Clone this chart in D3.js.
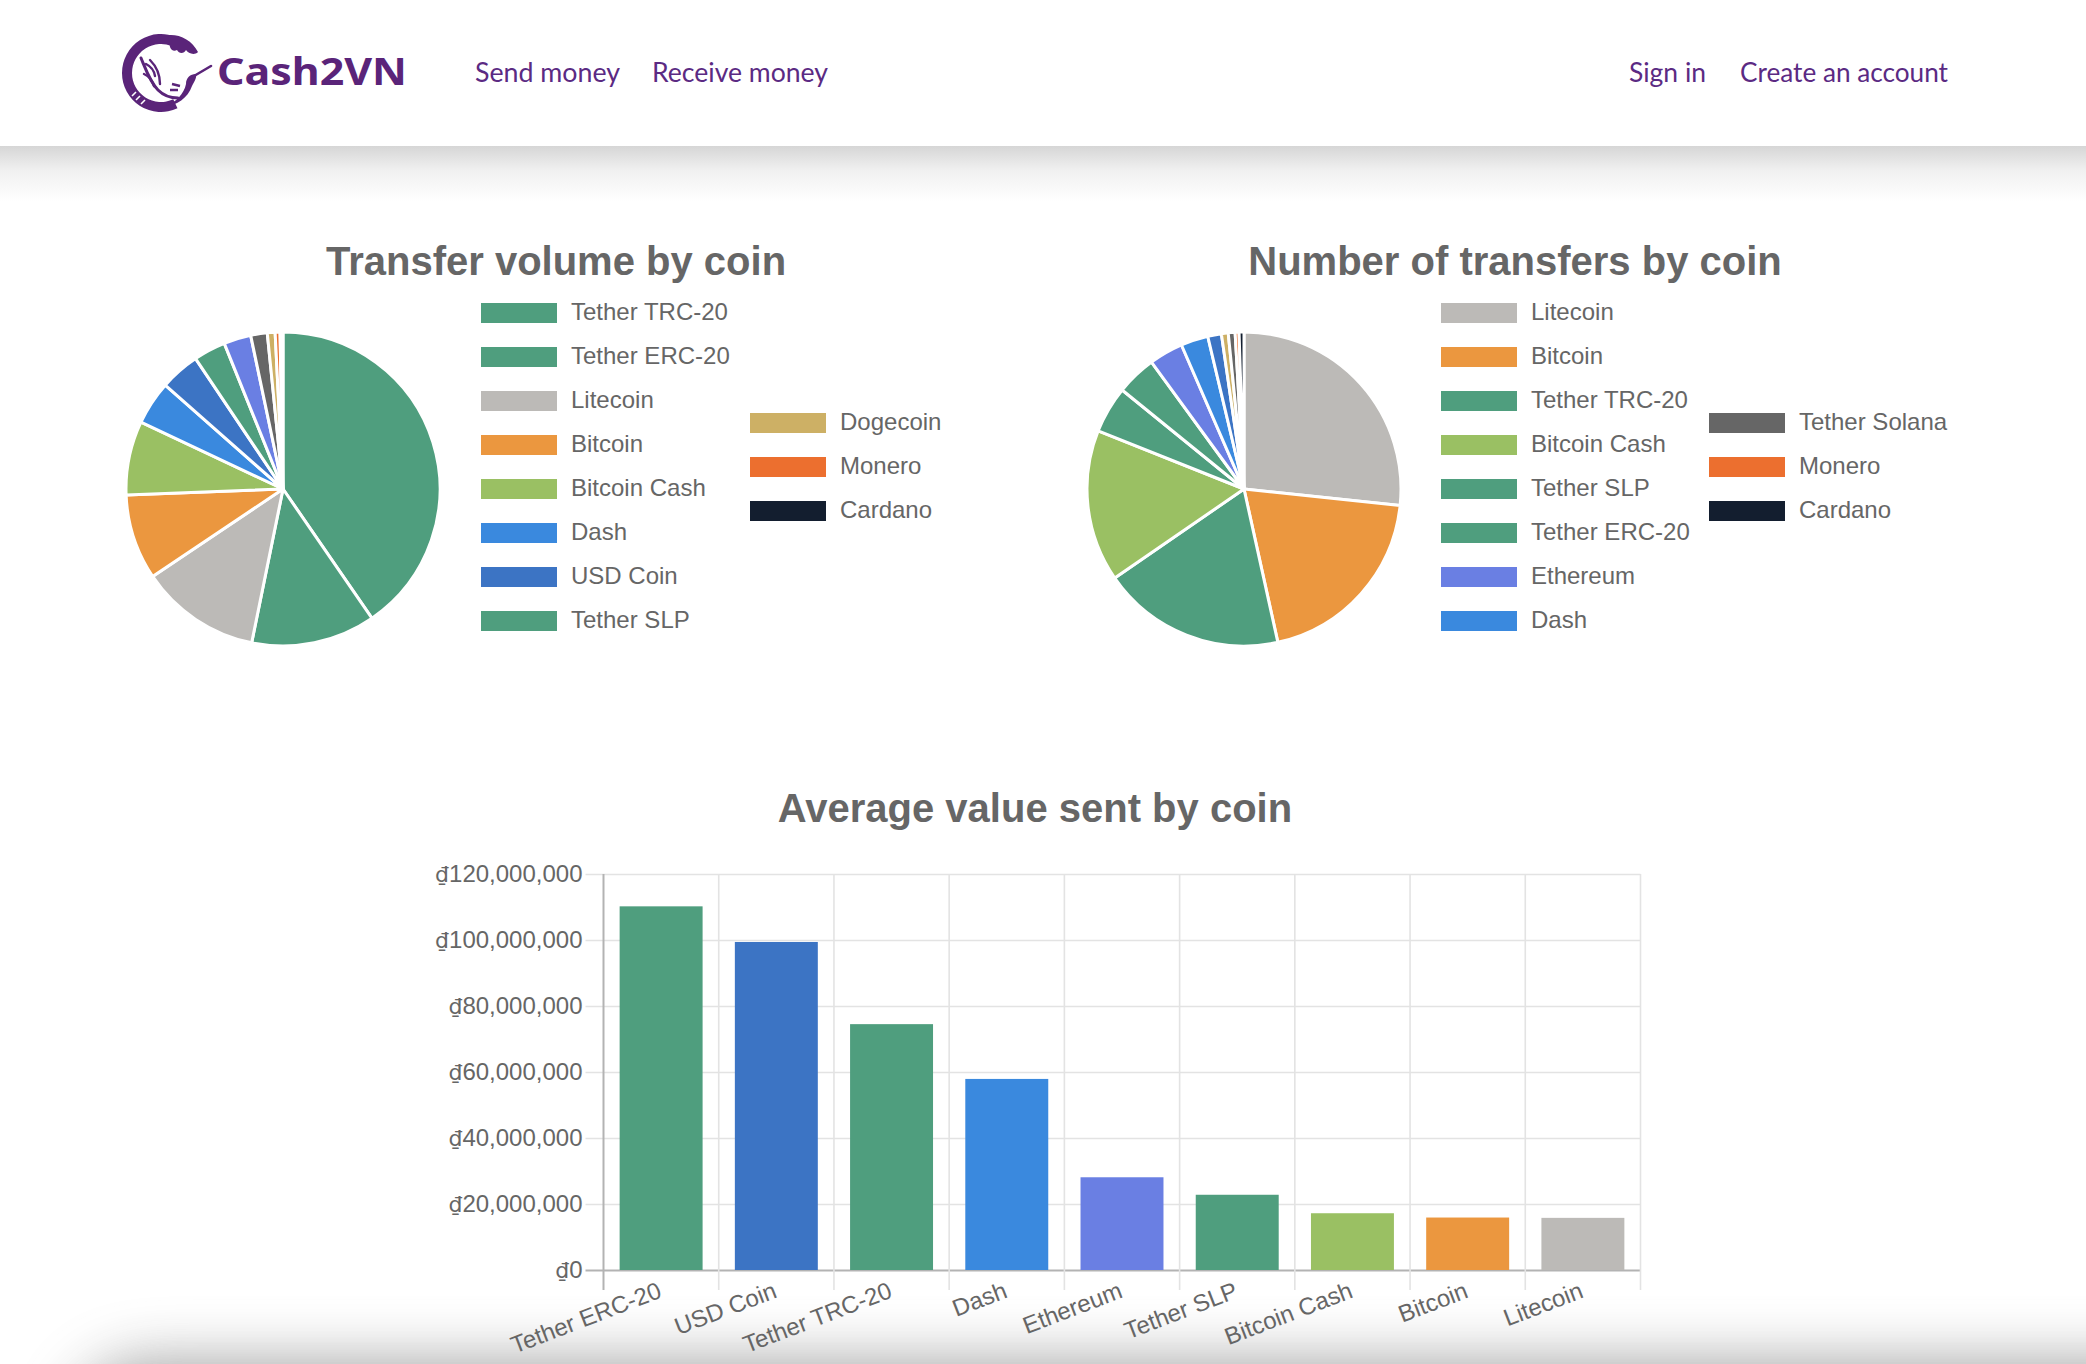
<!DOCTYPE html>
<html>
<head>
<meta charset="utf-8">
<script src="https://cdn.jsdelivr.net/npm/d3@7"></script>
<style>
  html, body { margin: 0; padding: 0; background: #fff; overflow: hidden; }
  svg { display: block; }
</style>
</head>
<body>
<svg id="page" width="2086" height="1364"></svg>
<script>
// --- data ---
// pie 1: share of transfer volume (percent), clockwise from 12 o'clock
const volumeCoins = ["Tether TRC-20", "Tether ERC-20", "Litecoin", "Bitcoin", "Bitcoin Cash", "Dash",
  "USD Coin", "Tether SLP", "Ethereum", "Tether Solana", "Dogecoin", "Monero", "Cardano"];
const volumeShare = [40.4, 12.8, 12.4, 8.8, 7.6, 4.5, 4.1, 3.3, 2.8, 1.7, 0.8, 0.5, 0.3];

// pie 2: share of number of transfers (percent)
const countCoins = ["Litecoin", "Bitcoin", "Tether TRC-20", "Bitcoin Cash", "Tether SLP", "Tether ERC-20",
  "Ethereum", "Dash", "USD Coin", "Dogecoin", "Tether Solana", "Monero", "Cardano"];
const countShare = [26.6, 19.8, 18.8, 15.6, 4.8, 4.1, 3.5, 2.8, 1.4, 0.7, 0.7, 0.4, 0.5];

// the legends in the picture leave out the 9th and 10th entry (they don't fit)
const volumeLegend = ["Tether TRC-20", "Tether ERC-20", "Litecoin", "Bitcoin", "Bitcoin Cash", "Dash",
  "USD Coin", "Tether SLP", "Dogecoin", "Monero", "Cardano"];
const countLegend = ["Litecoin", "Bitcoin", "Tether TRC-20", "Bitcoin Cash", "Tether SLP", "Tether ERC-20",
  "Ethereum", "Dash", "Tether Solana", "Monero", "Cardano"];

// bar chart: average value sent (VND)
const avgCoins = ["Tether ERC-20", "USD Coin", "Tether TRC-20", "Dash", "Ethereum", "Tether SLP",
  "Bitcoin Cash", "Bitcoin", "Litecoin"];
const avgValue = [110.2e6, 99.4e6, 74.5e6, 57.9e6, 28.1e6, 22.8e6, 17.2e6, 15.9e6, 15.8e6];

const coinColor = {
  "Tether TRC-20": "#4f9e7e", "Tether ERC-20": "#4f9e7e", "Tether SLP": "#4f9e7e",
  "Litecoin": "#bcbab7", "Bitcoin": "#eb973f", "Bitcoin Cash": "#9ac063", "Dash": "#3a89de",
  "USD Coin": "#3c74c4", "Ethereum": "#6a7fe3", "Tether Solana": "#666666", "Dogecoin": "#cdb065",
  "Monero": "#ec6f2f", "Cardano": "#131e2f"
};

const purple = "#5a2479";
const textGrey = "#666";
const chartFont = "'Liberation Sans', Arial, sans-serif";
const svg = d3.select("#page");

const defs = svg.append("defs");
const hdrGrad = defs.append("linearGradient").attr("id", "hdrShadow")
  .attr("x1", 0).attr("y1", 0).attr("x2", 0).attr("y2", 1);
hdrGrad.append("stop").attr("offset", "0%").attr("stop-color", "#d6d6d6");
hdrGrad.append("stop").attr("offset", "45%").attr("stop-color", "#f1f1f1");
hdrGrad.append("stop").attr("offset", "100%").attr("stop-color", "#fff");
defs.append("filter").attr("id", "blur").attr("x", "-20%").attr("y", "-100%").attr("width", "140%").attr("height", "300%")
  .append("feGaussianBlur").attr("stdDeviation", 30);

// ---------------- header ----------------
svg.append("rect").attr("x", 0).attr("y", 146).attr("width", 2086).attr("height", 56).attr("fill", "url(#hdrShadow)");
svg.append("rect").attr("x", 0).attr("y", 0).attr("width", 2086).attr("height", 146).attr("fill", "#fff");

// bottom card shadow
svg.append("rect").attr("x", 70).attr("y", 1362).attr("width", 2200).attr("height", 200).attr("rx", 80)
  .attr("fill", "#7a7a7a").attr("opacity", 0.7).attr("filter", "url(#blur)");

// logo mark (rough)
const logo = svg.append("g").attr("fill", purple).attr("stroke", purple);
const ring = d3.arc().innerRadius(29).outerRadius(39)
  .startAngle(-205 * Math.PI / 180).endAngle(25 * Math.PI / 180);
logo.append("path").attr("transform", "translate(161,73)").attr("d", ring()).attr("stroke", "none");
logo.append("path").attr("stroke", "none")
  .attr("d", "M168,35 C180,34 192,40 198,52 C194,56 188,53 186,50 C184,54 179,54 177,50 C174,52 171,50 170,47 Z");
logo.append("path").attr("fill", "none").attr("stroke-width", 2.6).attr("stroke-linecap", "round")
  .attr("d", "M211,66 L194,76");
logo.append("path").attr("stroke", "none")
  .attr("d", "M196,74 C190,74 186,78 186,84 C184,94 176,102 166,106 C176,106 188,98 192,86 C194,82 197,78 196,74 Z");
logo.append("path").attr("fill", "none").attr("stroke-width", 3).attr("stroke-linecap", "round")
  .attr("d", "M141,58 C146,70 150,82 158,90 C164,96 170,98 178,98");
logo.append("path").attr("fill", "none").attr("stroke-width", 2.4).attr("stroke-linecap", "round")
  .attr("d", "M146,64 C150,66 154,70 155,76 M144,74 C149,76 152,80 154,86 M150,60 C156,66 160,74 160,84");
logo.append("path").attr("fill", "none").attr("stroke", "#fff").attr("stroke-width", 1.6)
  .attr("d", "M132,96 L136,92 M136,100 L140,96 M141,104 L145,100");
logo.append("path").attr("fill", "none").attr("stroke-width", 2.4)
  .attr("d", "M180,86 L172,84 M178,90 L170,90");

svg.append("text").attr("x", 217).attr("y", 85)
  .attr("textLength", 190).attr("lengthAdjust", "spacingAndGlyphs")
  .style("font-family", "'Noto Sans', sans-serif").style("font-weight", 700).style("font-size", "38px")
  .attr("fill", purple).text("Cash2VN");

const navLinks = [
  { label: "Send money", x: 475, w: 145 },
  { label: "Receive money", x: 652, w: 176 },
  { label: "Sign in", x: 1629, w: 77 },
  { label: "Create an account", x: 1740, w: 208 }
];
svg.selectAll("text.nav").data(navLinks).join("text").attr("class", "nav")
  .attr("x", d => d.x).attr("y", 82)
  .attr("textLength", d => d.w).attr("lengthAdjust", "spacingAndGlyphs")
  .style("font-family", "Lato, 'Noto Sans', sans-serif").style("font-size", "26px")
  .attr("fill", "#5b2a83").text(d => d.label);

// ---------------- pies ----------------
function drawPie(cx, cy, coins, values, title, titleX, legendNames, legendX) {
  const r = 157;
  const pie = d3.pie().sort(null).value(d => d.v);
  const arc = d3.arc().innerRadius(0).outerRadius(r);
  const data = coins.map((c, i) => ({ c: c, v: values[i] }));

  svg.append("text").attr("x", titleX).attr("y", 275).attr("text-anchor", "middle")
    .style("font-family", chartFont).style("font-weight", 700).style("font-size", "40px")
    .attr("fill", textGrey).text(title);

  svg.append("g").attr("transform", `translate(${cx},${cy})`)
    .selectAll("path").data(pie(data)).join("path")
    .attr("d", arc)
    .attr("fill", d => coinColor[d.data.c])
    .attr("stroke", "#fff").attr("stroke-width", 3).attr("stroke-linejoin", "round");

  // legend: two columns, the second one centred against the first
  const perCol = 8, rowH = 44, top = 303;
  const cols = [legendNames.slice(0, perCol), legendNames.slice(perCol)];
  cols.forEach((names, ci) => {
    const offset = (perCol - names.length) * rowH / 2;
    const g = svg.append("g");
    const item = g.selectAll("g").data(names).join("g")
      .attr("transform", (d, i) => `translate(${legendX[ci]},${top + offset + i * rowH})`);
    item.append("rect").attr("width", 76).attr("height", 20).attr("fill", d => coinColor[d]);
    item.append("text").attr("x", 90).attr("y", 17)
      .style("font-family", chartFont).style("font-size", "24px")
      .attr("fill", textGrey).text(d => d);
  });
}

drawPie(283, 489, volumeCoins, volumeShare, "Transfer volume by coin", 556, volumeLegend, [481, 750]);
drawPie(1244, 489, countCoins, countShare, "Number of transfers by coin", 1515, countLegend, [1441, 1709]);

// ---------------- bar chart ----------------
const plot = { left: 603.5, right: 1640.5, top: 874, bottom: 1270 };
const x = d3.scaleBand().domain(avgCoins).range([plot.left, plot.right]);
const y = d3.scaleLinear().domain([0, 120e6]).range([plot.bottom, plot.top]);
const fmtNum = d3.format(",");

svg.append("text").attr("x", 1035).attr("y", 822).attr("text-anchor", "middle")
  .style("font-family", chartFont).style("font-weight", 700).style("font-size", "40px")
  .attr("fill", textGrey).text("Average value sent by coin");

const grid = svg.append("g");
const yTicks = y.ticks(6);
grid.selectAll("line.h").data(yTicks).join("line").attr("class", "h")
  .attr("x1", plot.left - 18).attr("x2", plot.right)
  .attr("y1", d => Math.round(y(d)) + 0.5).attr("y2", d => Math.round(y(d)) + 0.5)
  .attr("stroke", d => d === 0 ? "#b3b3b3" : "#e3e3e3").attr("stroke-width", d => d === 0 ? 2 : 1.6);
const vEdges = avgCoins.map(c => x(c)).concat([plot.right]);
grid.selectAll("line.v").data(vEdges).join("line").attr("class", "v")
  .attr("x1", d => d).attr("x2", d => d)
  .attr("y1", plot.top).attr("y2", plot.bottom + 20)
  .attr("stroke", (d, i) => i === 0 ? "#b3b3b3" : "#e3e3e3").attr("stroke-width", (d, i) => i === 0 ? 2 : 1.6);

// y tick labels; the dong sign comes from DejaVu, Liberation draws it as a small superscript
const yLab = svg.append("g").selectAll("text").data(yTicks).join("text")
  .attr("x", plot.left - 21).attr("y", d => y(d)).attr("dy", "0.35em").attr("text-anchor", "end")
  .style("font-family", chartFont).style("font-size", "24px")
  .attr("fill", textGrey);
yLab.append("tspan").style("font-family", "'DejaVu Sans', sans-serif").style("font-size", "22px").text("\u20ab");
yLab.append("tspan").text(d => fmtNum(d));

const barW = x.bandwidth() * 0.72;
svg.append("g").selectAll("rect").data(avgCoins).join("rect")
  .attr("x", d => x(d) + (x.bandwidth() - barW) / 2)
  .attr("width", barW)
  .attr("y", (d, i) => y(avgValue[i]))
  .attr("height", (d, i) => y(0) - y(avgValue[i]))
  .attr("fill", d => coinColor[d]);

svg.append("g").selectAll("text").data(avgCoins).join("text")
  .attr("transform", d => `translate(${x(d) + x.bandwidth() / 2 - 5},${plot.bottom + 9}) rotate(-21)`)
  .attr("text-anchor", "end").attr("dy", "0.8em")
  .style("font-family", chartFont).style("font-size", "24px")
  .attr("fill", textGrey).text(d => d);
</script>
</body>
</html>
